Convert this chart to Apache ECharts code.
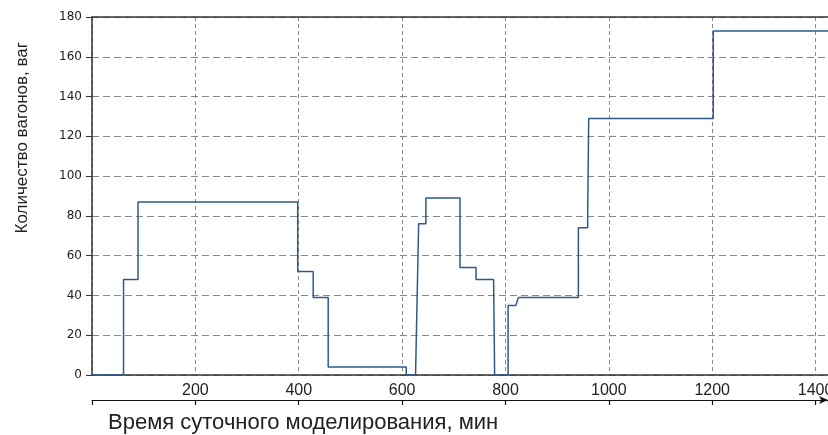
<!DOCTYPE html>
<html>
<head>
<meta charset="utf-8">
<script src="https://cdn.jsdelivr.net/npm/echarts@6/dist/echarts.min.js"></script>
<style>
html,body{margin:0;padding:0;background:#fff;}
#chart{width:828px;height:435px;}
</style>
</head>
<body>
<div id="chart"></div>
<script>
// Time (min) and wagon count
const times  = [0, 61, 61, 89, 89, 398, 398, 428, 428, 457, 457, 608, 608, 626, 632, 646, 646, 712, 712, 743, 743, 777, 779, 805, 805, 820, 825, 941, 941, 959, 959, 961, 961, 1202, 1202, 1424];
const counts = [0, 0, 48, 48, 87, 87, 52, 52, 39, 39, 4, 4, 0, 0, 76, 76, 89, 89, 54, 54, 48, 48, 0, 0, 35, 35, 39, 39, 74, 74, 80, 80, 129, 129, 173, 173];
const xTitle = 'Время суточного моделирования, мин';
const yTitle = 'Количество вагонов, ваг';
const xMin = 0, xMax = 1424, xStep = 200;
const yMin = 0, yMax = 180, yStep = 20;

const data = times.map((t, i) => [t, counts[i]]);
const chart = echarts.init(document.getElementById('chart'), null, {renderer: 'canvas'});
const axisColor = '#333';
const plain = v => String(v);
chart.setOption({
  animation: false,
  backgroundColor: '#fff',
  grid: {left: 92, right: 0, top: 17, bottom: 60, containLabel: false, outerBoundsMode: 'none'},
  xAxis: [
    {
      type: 'value', min: xMin, max: xMax, interval: xStep, position: 'bottom',
      axisLine: {show: true, onZero: false, lineStyle: {color: axisColor, width: 1.5}},
      axisTick: {show: false},
      axisLabel: {show: true, showMinLabel: false, showMaxLabel: false, margin: 8, formatter: plain,
        fontFamily: 'Liberation Sans', fontSize: 16, color: '#222'},
      splitLine: {show: true, lineStyle: {color: '#888', width: 1, type: [4, 3]}}
    },
    {
      type: 'value', min: xMin, max: xMax, interval: xStep, position: 'bottom', offset: 25,
      axisLine: {show: true, onZero: false, symbol: ['none', 'arrow'], symbolSize: [6, 9],
        lineStyle: {color: '#111', width: 1.2}},
      axisTick: {show: true, length: 5, lineStyle: {color: '#111', width: 1.2}},
      axisLabel: {show: false},
      splitLine: {show: false}
    },
    {
      type: 'value', min: xMin, max: xMax, interval: xStep, position: 'top',
      axisLine: {show: true, onZero: false, lineStyle: {color: axisColor, width: 1.5}},
      axisTick: {show: false}, axisLabel: {show: false}, splitLine: {show: false}
    }
  ],
  yAxis: {
    type: 'value', min: yMin, max: yMax, interval: yStep,
    axisLine: {show: true, onZero: false, lineStyle: {color: axisColor, width: 1.5}},
    axisTick: {show: true, length: 6, lineStyle: {color: axisColor}},
    axisLabel: {margin: 10, fontFamily: 'DejaVu Sans', fontSize: 12, color: '#222', formatter: plain},
    splitLine: {show: true, lineStyle: {color: '#888', width: 1, type: [7, 4]}}
  },
  graphic: [
    {type: 'text', left: 14, top: 42, rotation: Math.PI / 2,
      style: {text: yTitle, font: '17px "Liberation Sans"', fill: '#222'}},
    {type: 'text', left: 108, top: 412,
      style: {text: xTitle, font: '22px "Liberation Sans"', fill: '#222'}}
  ],
  series: [{
    type: 'line', data: data, xAxisIndex: 0, showSymbol: false, symbol: 'none',
    lineStyle: {color: '#2f5a88', width: 1.5}, clip: true
  }]
});
</script>
</body>
</html>
